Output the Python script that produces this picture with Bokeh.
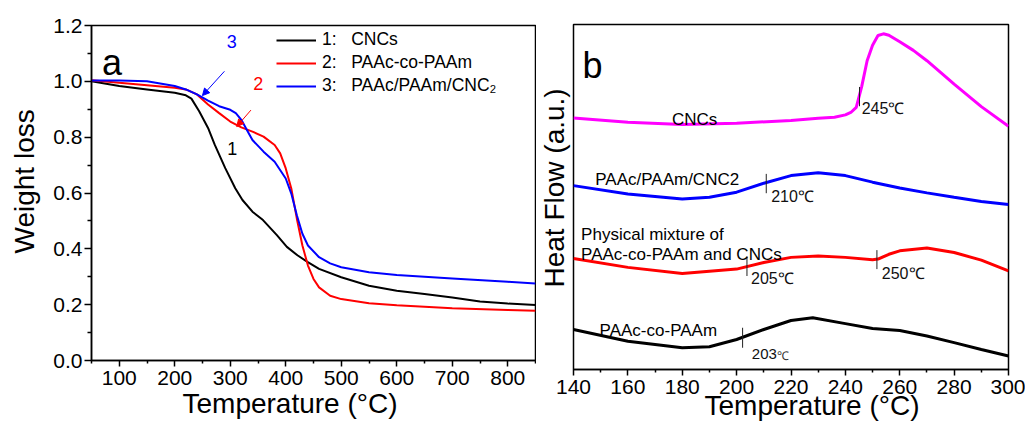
from math import pi
from bokeh.plotting import figure
from bokeh.layouts import row, column
from bokeh.models import Range1d, FixedTicker, Label, Arrow, NormalHead, PrintfTickFormatter, Legend, LegendItem, Title
from bokeh.embed import file_html
from bokeh.resources import INLINE

FONT = "Liberation Sans"

# ---------------- Panel a: TGA ----------------
T_cnc = [50, 100, 150, 200, 220, 230, 244, 260, 272, 291, 309, 322, 340, 359, 384, 402, 421, 439, 460, 500, 550, 600, 650, 700, 750, 800, 850]
W_cnc = [1.000, 0.983, 0.971, 0.959, 0.950, 0.938, 0.893, 0.833, 0.773, 0.689, 0.617, 0.575, 0.533, 0.503, 0.449, 0.407, 0.377, 0.353, 0.328, 0.298, 0.268, 0.250, 0.238, 0.226, 0.211, 0.204, 0.199]

T_paa = [50, 100, 150, 200, 220, 240, 260, 280, 300, 320, 340, 360, 380, 390, 400, 410, 420, 430, 440, 450, 460, 480, 500, 550, 600, 700, 800, 850]
W_paa = [1.004, 0.995, 0.986, 0.977, 0.971, 0.953, 0.917, 0.886, 0.856, 0.835, 0.820, 0.802, 0.772, 0.742, 0.688, 0.616, 0.508, 0.412, 0.340, 0.292, 0.262, 0.232, 0.220, 0.205, 0.198, 0.187, 0.181, 0.178]

T_cpx = [50, 100, 150, 200, 220, 240, 260, 280, 300, 310, 320, 330, 340, 360, 380, 400, 410, 420, 430, 440, 460, 480, 500, 550, 600, 700, 800, 850]
W_cpx = [1.003, 1.003, 1.000, 0.983, 0.971, 0.953, 0.931, 0.911, 0.898, 0.886, 0.862, 0.826, 0.790, 0.748, 0.712, 0.652, 0.598, 0.520, 0.454, 0.412, 0.370, 0.348, 0.334, 0.316, 0.306, 0.294, 0.282, 0.276]

series_a_labels = ["1:\u00a0\u00a0\u00a0CNCs", "2:\u00a0\u00a0\u00a0PAAc-co-PAAm", "3:\u00a0\u00a0\u00a0PAAc/PAAm/CNC\u2082"]
x_major_a = [100, 200, 300, 400, 500, 600, 700, 800]
x_minor_a = [50, 150, 250, 350, 450, 550, 650, 750, 850]
y_major_a = [0.0, 0.2, 0.4, 0.6, 0.8, 1.0, 1.2]
y_minor_a = [0.1, 0.3, 0.5, 0.7, 0.9, 1.1]

# ---------------- Panel b: DSC ----------------
T_d_cnc = [140, 160, 180, 200, 220, 230, 236, 240, 242, 244, 246, 248, 250, 252, 254, 256, 260, 265, 270, 280, 290, 300]
H_d_cnc = [7.29, 7.17, 7.10, 7.14, 7.22, 7.28, 7.31, 7.38, 7.45, 7.60, 8.20, 8.95, 9.40, 9.68, 9.73, 9.69, 9.50, 9.25, 8.95, 8.27, 7.62, 7.05]

T_d_cpx = [140, 160, 180, 190, 200, 210, 220, 230, 240, 250, 260, 270, 280, 290, 300]
H_d_cpx = [5.33, 5.09, 4.94, 4.99, 5.14, 5.40, 5.62, 5.70, 5.62, 5.43, 5.26, 5.12, 4.99, 4.87, 4.78]

T_d_mix = [140, 160, 180, 200, 210, 220, 230, 240, 250, 252, 256, 260, 270, 280, 290, 300]
H_d_mix = [3.22, 2.96, 2.78, 2.91, 3.10, 3.25, 3.29, 3.25, 3.18, 3.20, 3.34, 3.44, 3.52, 3.39, 3.17, 2.86]

T_d_paa = [140, 160, 180, 190, 200, 210, 220, 228, 240, 250, 260, 270, 280, 290, 300]
H_d_paa = [1.16, 0.82, 0.63, 0.66, 0.87, 1.16, 1.42, 1.50, 1.33, 1.19, 1.13, 0.97, 0.78, 0.58, 0.39]

mark_T = [245.2, 210.9, 203.8, 251.6, 202.2]
mark_lo = [7.63, 5.11, 2.71, 2.91, 0.63]
mark_hi = [8.19, 5.67, 3.27, 3.46, 1.21]
mark_text = ["245\u2103", "210\u2103", "205\u2103", "250\u2103", "203"]

x_major_b = [140, 160, 180, 200, 220, 240, 260, 280, 300]
x_minor_b = [150, 170, 190, 210, 230, 250, 270, 290]


def style(p):
    p.outline_line_color = "black"
    p.outline_line_width = 1.5
    p.outline_line_alpha = 1
    p.grid.visible = False
    p.background_fill_color = "white"
    p.border_fill_color = "white"
    for ax in p.axis:
        ax.axis_line_width = 1.5
        ax.axis_line_color = "black"
        ax.major_tick_in = 0
        ax.major_tick_out = 6
        ax.minor_tick_in = 0
        ax.minor_tick_out = 3
        ax.major_tick_line_width = 1.5
        ax.minor_tick_line_width = 1.5
        ax.major_tick_line_color = "black"
        ax.minor_tick_line_color = "black"
        ax.major_label_text_font = FONT
        ax.major_label_text_font_size = "21px"
        ax.major_label_text_color = "black"


def axis_title(text, offset, standoff):
    return Title(text=text, align="left", offset=offset, vertical_align="top", standoff=standoff,
                 text_font=FONT, text_font_size="28px", text_font_style="normal", text_color="black")


# ---- figure a ----
p1 = figure(width=536, height=425, x_range=Range1d(50, 850), y_range=Range1d(0, 1.2),
            output_backend="svg", toolbar_location=None,
            min_border_left=90, min_border_right=1, min_border_top=25, min_border_bottom=65)
style(p1)
p1.xaxis.ticker = FixedTicker(ticks=x_major_a, minor_ticks=x_minor_a)
p1.yaxis.ticker = FixedTicker(ticks=y_major_a, minor_ticks=y_minor_a)
p1.yaxis.formatter = PrintfTickFormatter(format="%.1f")
p1.yaxis.major_tick_out = 7
p1.yaxis.minor_tick_out = 4
p1.yaxis.major_label_standoff = 2
p1.xaxis.major_label_standoff = 4

r1 = p1.line(T_cnc, W_cnc, line_color="black", line_width=2)
r2 = p1.line(T_paa, W_paa, line_color="#FF0000", line_width=2)
r3 = p1.line(T_cpx, W_cpx, line_color="#0000FF", line_width=2)

legend = Legend(items=[LegendItem(label=series_a_labels[0], renderers=[r1]),
                       LegendItem(label=series_a_labels[1], renderers=[r2]),
                       LegendItem(label=series_a_labels[2], renderers=[r3])],
                location=(185, 264), border_line_color=None, background_fill_alpha=0,
                padding=0, margin=0, spacing=2, glyph_width=40, glyph_height=20,
                label_height=20, label_standoff=6, label_text_font=FONT,
                label_text_font_size="17.5px", label_text_color="black")
p1.add_layout(legend)

p1.add_layout(Label(x=69, y=1.068, text="a", text_font=FONT, text_font_size="36px",
                    text_align="left", text_baseline="alphabetic", text_color="black"))
p1.add_layout(Label(x=302.6, y=1.142, text="3", text_font=FONT, text_font_size="18px",
                    text_align="center", text_baseline="middle", text_color="#0000FF"))
p1.add_layout(Label(x=350.6, y=0.994, text="2", text_font=FONT, text_font_size="18px",
                    text_align="center", text_baseline="middle", text_color="#FF0000"))
p1.add_layout(Label(x=303.8, y=0.761, text="1", text_font=FONT, text_font_size="18px",
                    text_align="center", text_baseline="middle", text_color="black"))
p1.add_layout(Arrow(end=NormalHead(size=7, fill_color="#0000FF", line_color="#0000FF"),
                    x_start=289.5, y_start=1.036, x_end=249.9, y_end=0.949,
                    line_color="#0000FF", line_width=1))
p1.add_layout(Arrow(end=NormalHead(size=7, fill_color="#FF0000", line_color="#FF0000"),
                    x_start=337.3, y_start=0.897, x_end=311.6, y_end=0.838,
                    line_color="#FF0000", line_width=1))

p1.add_layout(axis_title("Temperature (\u00b0C)", 91, 0), "below")
p1.add_layout(axis_title("Weight loss", 107, 17), "left")

# ---- figure b ----
p2 = figure(width=489, height=425, x_range=Range1d(140, 300), y_range=Range1d(0, 10),
            output_backend="svg", toolbar_location=None,
            min_border_left=37, min_border_right=17, min_border_top=24, min_border_bottom=56)
style(p2)
p2.yaxis.visible = False
p2.xaxis.ticker = FixedTicker(ticks=x_major_b, minor_ticks=x_minor_b)
p2.xaxis.major_label_standoff = 4

p2.line(T_d_cnc, H_d_cnc, line_color="#FF00FF", line_width=3)
p2.line(T_d_cpx, H_d_cpx, line_color="#0000FF", line_width=3)
p2.line(T_d_mix, H_d_mix, line_color="#FF0000", line_width=3)
p2.line(T_d_paa, H_d_paa, line_color="black", line_width=3)
p2.segment(x0=mark_T, y0=mark_lo, x1=mark_T, y1=mark_hi, line_color="#222222", line_width=1)

for (x, y, t, fs) in [(246.0, 7.56, mark_text[0], "16px"), (212.7, 5.01, mark_text[1], "16px"),
                      (205.3, 2.65, mark_text[2], "16px"), (253.4, 2.78, mark_text[3], "16px"),
                      (205.6, 0.45, mark_text[4], "15px")]:
    p2.add_layout(Label(x=x, y=y, text=t, text_font=FONT, text_font_size=fs,
                        text_align="left", text_baseline="alphabetic", text_color="#111111"))
p2.add_layout(Label(x=214.8, y=0.40, text="\u2103", text_font=FONT, text_font_size="12px",
                    text_align="left", text_baseline="alphabetic", text_color="#333333"))

for (x, y, t) in [(176.2, 7.25, "CNCs"), (148.0, 5.52, "PAAc/PAAm/CNC2"),
                  (142.8, 3.92, "Physical mixture of"), (142.8, 3.34, "PAAc-co-PAAm and CNCs"),
                  (149.6, 1.13, "PAAc-co-PAAm")]:
    p2.add_layout(Label(x=x, y=y, text=t, text_font=FONT, text_font_size="17px",
                        text_align="left", text_baseline="alphabetic", text_color="black"))

p2.add_layout(Label(x=143.3, y=8.82, text="b", text_font=FONT, text_font_size="36px",
                    text_align="left", text_baseline="alphabetic", text_color="black"))

p2.add_layout(axis_title("Temperature (\u00b0C)", 131, -13), "below")
p2.add_layout(axis_title("Heat Flow (a.u.)", 82, 4), "left")

layout = row(p1, column(p2))
open("out.html", "w").write(file_html(layout, INLINE))
